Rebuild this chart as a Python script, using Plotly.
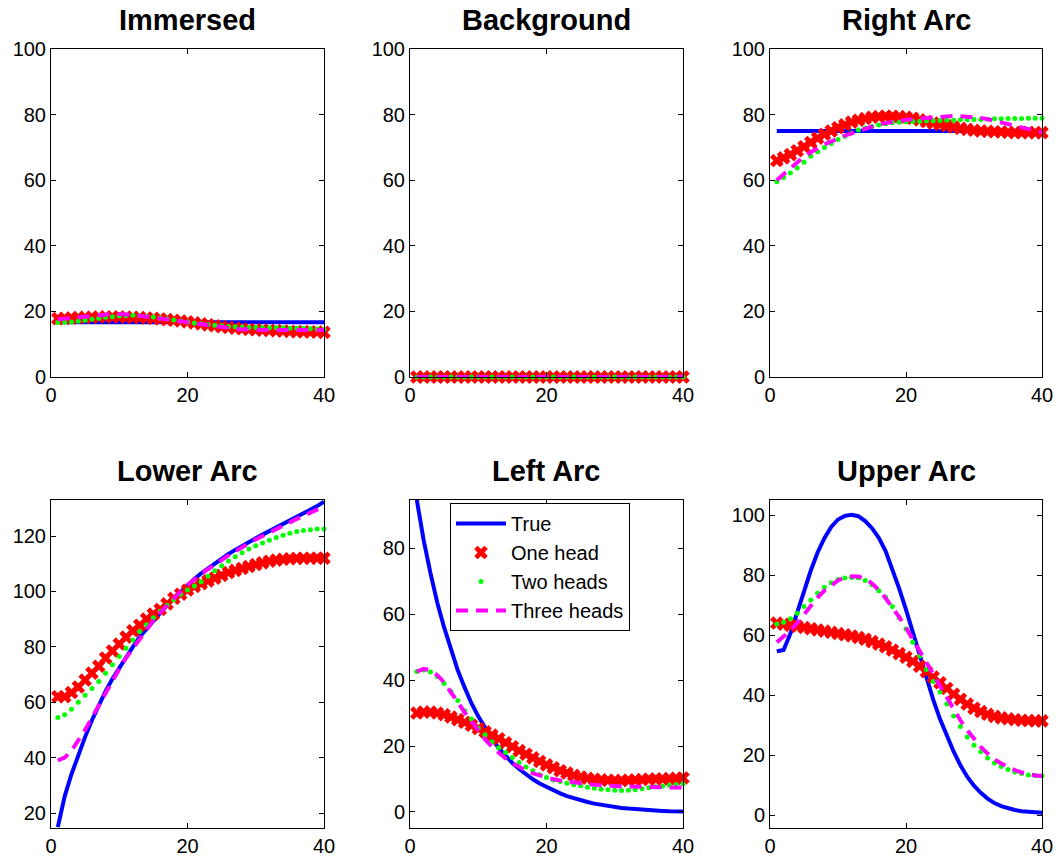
import plotly.graph_objects as go

x = list(range(1, 41))

# ---------------- data ----------------
titles = ["Immersed", "Background", "Right Arc", "Lower Arc", "Left Arc", "Upper Arc"]
series_names = ["True", "One head", "Two heads", "Three heads"]

immersed_true = [16.7] * 40
immersed_one = [17.8, 17.9, 18.0, 18.1, 18.2, 18.2, 18.3, 18.3, 18.3, 18.3,
                18.2, 18.2, 18.1, 18.0, 17.9, 17.7, 17.5, 17.3, 17.1, 16.8,
                16.5, 16.2, 15.9, 15.6, 15.3, 15.1, 14.9, 14.7, 14.5, 14.4,
                14.3, 14.2, 14.1, 14.0, 13.9, 13.8, 13.8, 13.7, 13.7, 13.6]
immersed_two = [16.6, 16.7, 16.8, 17.0, 17.3, 17.6, 17.9, 18.2, 18.4, 18.6,
                18.7, 18.8, 18.7, 18.5, 18.3, 18.0, 17.7, 17.4, 17.1, 16.8,
                16.5, 16.2, 16.0, 15.8, 15.6, 15.4, 15.3, 15.2, 15.1, 15.1,
                15.0, 15.0, 15.0, 15.0, 14.9, 14.9, 14.8, 14.7, 14.6, 14.5]
immersed_three = [17.6, 17.8, 18.0, 18.3, 18.6, 18.8, 19.0, 19.1, 19.2, 19.2,
                  19.1, 18.9, 18.7, 18.4, 18.1, 17.8, 17.5, 17.1, 16.8, 16.5,
                  16.2, 15.9, 15.6, 15.3, 15.1, 14.9, 14.7, 14.5, 14.4, 14.4,
                  14.3, 14.3, 14.3, 14.3, 14.3, 14.3, 14.3, 14.3, 14.3, 14.3]

background_true = [0.0] * 40
background_one = [0.0] * 40
background_two = [0.0] * 40
background_three = [0.0] * 40

right_true = [75.0] * 40
right_one = [66.0, 66.8, 67.8, 69.0, 70.2, 71.5, 72.8, 74.0, 75.0, 76.0,
             76.9, 77.7, 78.3, 78.8, 79.2, 79.4, 79.5, 79.5, 79.4, 79.2,
             78.9, 78.4, 77.9, 77.4, 77.0, 76.6, 76.2, 75.8, 75.5, 75.2,
             75.0, 74.9, 74.8, 74.7, 74.6, 74.5, 74.5, 74.5, 74.5, 74.5]
right_two = [59.5, 60.8, 62.2, 63.7, 65.5, 67.3, 68.7, 70.0, 71.2, 72.4,
             73.4, 74.4, 75.3, 75.9, 76.4, 76.8, 77.2, 77.5, 77.7, 77.8,
             77.9, 78.0, 78.1, 78.1, 78.2, 78.3, 78.3, 78.4, 78.4, 78.5,
             78.5, 78.6, 78.7, 78.7, 78.8, 78.8, 78.8, 78.9, 78.9, 78.9]
right_three = [60.0, 61.8, 63.8, 65.7, 67.2, 68.5, 69.8, 70.9, 71.8, 72.8,
               73.6, 74.3, 75.0, 75.7, 76.4, 77.0, 77.4, 77.8, 78.1, 78.4,
               78.6, 78.8, 78.9, 79.2, 79.5, 79.6, 79.6, 79.5, 79.4, 79.2,
               79.0, 78.6, 78.1, 77.6, 77.1, 76.6, 76.1, 75.6, 75.0, 74.6]

lower_true = [14.9, 26.0, 34.0, 41.0, 47.5, 53.5, 59.0, 64.0, 68.5, 72.5,
              76.5, 80.0, 83.6, 86.5, 89.5, 92.3, 95.0, 97.5, 100.0, 102.3,
              104.5, 106.5, 108.3, 110.2, 111.9, 113.5, 115.0, 116.5, 118.0, 119.2,
              120.5, 121.8, 123.2, 124.5, 125.5, 126.8, 128.0, 129.4, 130.8, 132.4]
lower_one = [62.0, 62.0, 63.5, 65.5, 68.0, 70.5, 73.0, 76.0, 78.5, 81.0,
             83.5, 85.8, 87.8, 90.0, 91.8, 93.5, 95.5, 97.5, 99.0, 100.5,
             101.8, 102.8, 103.8, 104.8, 105.8, 106.8, 107.6, 108.3, 109.0, 109.7,
             110.3, 110.9, 111.3, 111.6, 111.8, 111.9, 112.0, 112.0, 112.0, 112.0]
lower_two = [54.5, 55.5, 57.5, 60.0, 62.5, 65.0, 67.5, 70.5, 73.5, 76.5,
             79.5, 82.5, 85.5, 88.0, 90.5, 92.8, 95.0, 97.0, 99.0, 100.5,
             102.0, 103.5, 105.5, 107.5, 109.3, 111.0, 112.5, 114.0, 115.3, 116.5,
             117.5, 118.5, 119.5, 120.3, 121.0, 121.6, 122.0, 122.3, 122.5, 122.5]
lower_three = [39.0, 40.0, 42.5, 46.0, 50.0, 54.5, 59.0, 63.5, 68.0, 72.0,
               76.0, 79.5, 83.0, 86.5, 89.5, 92.3, 95.0, 97.5, 100.0, 102.3,
               104.5, 106.3, 108.0, 109.8, 111.5, 113.0, 114.5, 116.0, 117.5, 118.8,
               120.0, 121.3, 122.5, 123.8, 125.0, 126.2, 127.3, 128.5, 129.6, 130.6]

left_true = [94.7, 82.5, 72.5, 63.5, 56.0, 49.0, 43.0, 37.8, 33.0, 29.0,
             25.3, 22.2, 19.4, 17.0, 14.8, 13.0, 11.3, 9.9, 8.6, 7.5,
             6.5, 5.6, 4.8, 4.1, 3.5, 3.0, 2.5, 2.1, 1.8, 1.5,
             1.2, 1.0, 0.8, 0.7, 0.5, 0.4, 0.3, 0.2, 0.2, 0.1]
left_one = [30.0, 30.3, 30.3, 30.0, 29.5, 28.8, 28.0, 27.2, 26.3, 25.3,
            24.3, 23.3, 22.2, 21.0, 19.8, 18.6, 17.5, 16.4, 15.3, 14.3,
            13.4, 12.5, 11.8, 11.1, 10.6, 10.2, 9.9, 9.7, 9.6, 9.5,
            9.5, 9.6, 9.7, 9.8, 9.9, 10.0, 10.0, 10.1, 10.2, 10.3]
left_two = [42.6, 43.1, 42.5, 41.0, 39.0, 36.5, 33.8, 30.7, 28.2, 25.4,
            23.4, 21.3, 19.5, 18.0, 16.5, 15.0, 13.6, 12.5, 11.3, 10.4,
            9.7, 9.2, 8.7, 8.2, 7.9, 7.5, 7.2, 6.9, 6.7, 6.6,
            6.5, 6.6, 6.7, 7.0, 7.3, 7.6, 7.8, 8.1, 8.3, 8.5]
left_three = [42.6, 43.4, 43.0, 41.5, 39.3, 36.5, 33.3, 30.2, 27.3, 24.5,
              22.0, 19.8, 17.8, 16.2, 14.8, 13.6, 12.6, 11.7, 11.0, 10.4,
              9.9, 9.5, 9.2, 8.9, 8.6, 8.4, 8.2, 8.1, 7.9, 7.8,
              7.7, 7.7, 7.6, 7.6, 7.5, 7.5, 7.5, 7.4, 7.4, 7.4]

upper_true = [54.6, 55.0, 60.5, 67.5, 75.0, 81.5, 87.5, 92.3, 96.0, 98.5,
              99.7, 100.1, 99.6, 98.0, 95.6, 92.4, 88.0, 82.0, 75.5, 68.5,
              61.0, 53.0, 45.5, 38.5, 32.0, 26.5, 21.2, 16.6, 12.8, 9.8,
              7.4, 5.5, 4.0, 3.0, 2.2, 1.7, 1.3, 1.1, 0.9, 0.8]
upper_one = [64.0, 63.6, 63.2, 62.9, 62.5, 62.1, 61.7, 61.3, 60.9, 60.5,
             60.1, 59.7, 59.2, 58.6, 57.8, 57.0, 56.1, 55.0, 53.8, 52.6,
             51.2, 49.6, 47.8, 46.0, 44.1, 42.2, 40.3, 38.6, 37.0, 35.6,
             34.5, 33.6, 32.9, 32.4, 32.1, 31.8, 31.6, 31.5, 31.4, 31.4]
upper_two = [63.7, 64.3, 65.4, 67.3, 69.5, 71.7, 73.9, 75.9, 77.4, 78.5,
             79.0, 79.2, 79.0, 78.2, 76.8, 74.8, 72.6, 69.5, 65.8, 62.0,
             57.6, 53.0, 48.5, 44.5, 41.0, 37.0, 33.0, 29.5, 26.0, 23.3,
             21.1, 19.0, 17.4, 16.2, 15.2, 14.4, 13.9, 13.4, 13.2, 13.1]
upper_three = [57.6, 59.5, 61.5, 64.0, 67.0, 69.8, 72.5, 74.8, 76.7, 78.2,
               79.1, 79.6, 79.5, 78.8, 77.2, 75.0, 72.3, 69.4, 66.0, 62.4,
               58.7, 54.8, 51.0, 47.0, 43.0, 39.0, 35.2, 31.6, 28.3, 25.3,
               22.7, 20.5, 18.6, 17.2, 16.0, 15.0, 14.2, 13.6, 13.2, 13.0]

panels = [
    (immersed_true, immersed_one, immersed_two, immersed_three),
    (background_true, background_one, background_two, background_three),
    (right_true, right_one, right_two, right_three),
    (lower_true, lower_one, lower_two, lower_three),
    (left_true, left_one, left_two, left_three),
    (upper_true, upper_one, upper_two, upper_three),
]

y_ranges = [[0, 100], [0, 100], [0, 100], [14.6, 133], [-4.9, 94.7], [-4.3, 105]]
y_ticks = [
    [0, 20, 40, 60, 80, 100],
    [0, 20, 40, 60, 80, 100],
    [0, 20, 40, 60, 80, 100],
    [20, 40, 60, 80, 100, 120],
    [0, 20, 40, 60, 80],
    [0, 20, 40, 60, 80, 100],
]
x_ticks = [0, 20, 40]
legend_panel = 4

# ---------------- layout geometry (pixels) ----------------
W, H = 1058, 859
col_px = [(51, 324), (410, 683), (770, 1042)]
row_px = [(49, 377), (500, 828)]

FONT = "Liberation Sans, Arial, Helvetica, sans-serif"

fig = go.Figure()

for i, (yt, y1, y2, y3) in enumerate(panels):
    ax = "" if i == 0 else str(i + 1)
    xref, yref = "x" + ax, "y" + ax
    show = (i == legend_panel)
    fig.add_trace(go.Scatter(x=x, y=yt, mode="lines", name=series_names[0],
                             line=dict(color="#0000ff", width=4),
                             xaxis=xref, yaxis=yref, showlegend=show, cliponaxis=False))
    fig.add_trace(go.Scatter(x=x, y=y1, mode="markers", name=series_names[1],
                             marker=dict(symbol="x", size=12, color="#ff0000", line=dict(width=0)),
                             xaxis=xref, yaxis=yref, showlegend=show, cliponaxis=False))
    fig.add_trace(go.Scatter(x=x, y=y2, mode="markers", name=series_names[2],
                             marker=dict(symbol="circle", size=5, color="#00ff00", line=dict(width=0)),
                             xaxis=xref, yaxis=yref, showlegend=show, cliponaxis=False))
    fig.add_trace(go.Scatter(x=x, y=y3, mode="lines", name=series_names[3],
                             line=dict(color="#ff00ff", width=4, dash="12px,8px"),
                             xaxis=xref, yaxis=yref, showlegend=show, cliponaxis=False))

axis_common = dict(showline=True, linecolor="black", linewidth=1, mirror="ticks",
                   ticks="inside", ticklen=5, tickcolor="black", tickwidth=1,
                   showgrid=False, zeroline=False, automargin=False,
                   tickfont=dict(family=FONT, size=20, color="black"))

annotations = []
for i in range(6):
    r, c = divmod(i, 3)
    x0, x1 = col_px[c]
    t0, t1 = row_px[r]
    xd = [x0 / W, x1 / W]
    yd = [1 - t1 / H, 1 - t0 / H]
    ax = "" if i == 0 else str(i + 1)
    fig.layout["xaxis" + ax] = dict(domain=xd, range=[0, 40], tickvals=x_ticks,
                                    anchor="y" + ax, **axis_common)
    fig.layout["yaxis" + ax] = dict(domain=yd, range=y_ranges[i], tickvals=y_ticks[i],
                                    anchor="x" + ax, **axis_common)
    annotations.append(dict(text="<b>%s</b>" % titles[i], x=(x0 + x1) / 2 / W,
                            y=1 - (t0 - 29) / H, xref="paper", yref="paper",
                            xanchor="center", yanchor="middle", showarrow=False,
                            font=dict(family=FONT, size=29, color="black")))

fig.update_layout(
    template="none",
    width=W, height=H,
    margin=dict(l=0, r=0, t=0, b=0, autoexpand=False),
    paper_bgcolor="white", plot_bgcolor="white",
    annotations=annotations,
    legend=dict(x=450 / W, y=1 - 503 / H, xanchor="left", yanchor="top",
                bgcolor="white", bordercolor="black", borderwidth=1,
                font=dict(family=FONT, size=20, color="black"),
                tracegroupgap=0, itemwidth=50),
    font=dict(family=FONT, color="black"),
)

fig.write_html("out.html")
